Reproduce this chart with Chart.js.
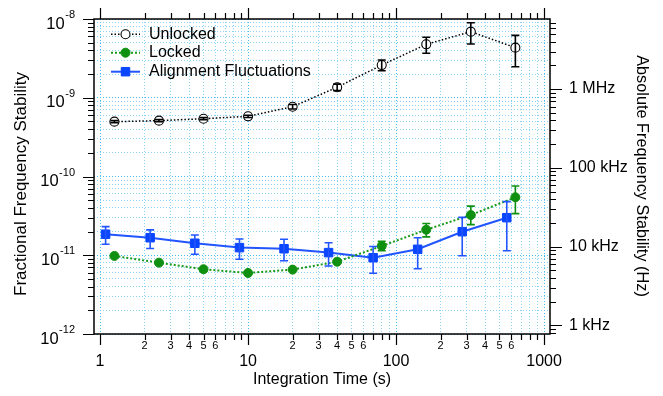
<!DOCTYPE html>
<html><head><meta charset="utf-8">
<script src="https://cdn.jsdelivr.net/npm/chart.js@4.4.1/dist/chart.umd.min.js"></script>
<style>html,body{margin:0;padding:0;background:#fff;overflow:hidden}#wrap{width:663px;height:396px;position:relative}</style>
</head><body><div id="wrap"><canvas id="c" width="663" height="396"></canvas></div>
<script>
const FONT = "'Liberation Sans', Arial, Helvetica, sans-serif";

// ---------- data ----------
const tauUnlocked = [1.25, 2.5, 5, 10, 20, 40, 80, 160, 320, 640];
const unlocked    = [4.97e-10, 5.12e-10, 5.42e-10, 5.81e-10, 7.69e-10, 1.36e-9, 2.6e-9, 4.77e-9, 6.9e-9, 4.33e-9];
const unlockedLo  = [4.82e-10, 4.96e-10, 5.25e-10, 5.62e-10, 7.2e-10, 1.23e-9, 2.2e-9, 3.67e-9, 4.82e-9, 2.48e-9];
const unlockedHi  = [5.12e-10, 5.28e-10, 5.6e-10, 6.0e-10, 8.2e-10, 1.49e-9, 3.02e-9, 5.86e-9, 8.97e-9, 6.2e-9];

const tauLocked = [1.25, 2.5, 5, 10, 20, 40, 80, 160, 320, 640];
const locked    = [9.8e-12, 8.05e-12, 6.64e-12, 5.96e-12, 6.57e-12, 8.28e-12, 1.31e-11, 2.11e-11, 3.24e-11, 5.45e-11];
const lockedLo  = [null, null, null, null, null, null, 1.14e-11, 1.71e-11, 2.45e-11, 3.38e-11];
const lockedHi  = [null, null, null, null, null, null, 1.50e-11, 2.53e-11, 4.21e-11, 7.58e-11];

const tauAlign = [1.09, 2.18, 4.37, 8.75, 17.5, 35, 70, 140, 280, 560];
const align    = [1.85e-11, 1.67e-11, 1.42e-11, 1.25e-11, 1.21e-11, 1.08e-11, 9.3e-12, 1.19e-11, 1.99e-11, 3.0e-11];
const alignLo  = [1.38e-11, 1.22e-11, 1.03e-11, 8.89e-12, 8.53e-12, 7.3e-12, 5.9e-12, 6.74e-12, 9.86e-12, 1.14e-11];
const alignHi  = [2.31e-11, 2.10e-11, 1.81e-11, 1.61e-11, 1.60e-11, 1.44e-11, 1.29e-11, 1.67e-11, 3.03e-11, 4.79e-11];

// ---------- axes / tick labels ----------
const X_MIN = 0.91, X_MAX = 1097;
const Y_MIN = 1e-12, Y_MAX = 1e-8;
const F0 = 7.76e14; // Hz per unit fractional stability (right axis)
const xDecades = [1, 10, 100, 1000];
const xDecadeLabels = ['1', '10', '100', '1000'];
const xMinorLabeled = [2, 3, 4, 5, 6];
const yDecades = [1e-12, 1e-11, 1e-10, 1e-9, 1e-8];
const yExponents = ['-12', '-11', '-10', '-9', '-8'];
const fDecades = [1e2, 1e3, 1e4, 1e5, 1e6];
const fDecadeLabels = ['100 Hz', '1 kHz', '10 kHz', '100 kHz', '1 MHz'];
const MULTS = [1, 2, 3, 4, 5, 6, 7, 8, 9];

function logTicks(decades, lo, hi) {
  const out = [];
  decades.forEach(d => MULTS.forEach(m => {
    const v = d * m;
    if (v >= lo * 0.9999 && v <= hi * 1.0001) out.push({ value: v, major: m === 1 });
  }));
  return out;
}
const xTicks = logTicks(xDecades, X_MIN, X_MAX);
const yTicks = logTicks(yDecades, Y_MIN, Y_MAX);
const fTicks = logTicks(fDecades, Y_MIN * F0, Y_MAX * F0);

const gridMajor = 'rgba(60,185,240,0.95)';
const gridMinor = 'rgba(120,205,245,0.85)';

const errorBars = {
  id: 'errorBars',
  afterDatasetsDraw(chart) {
    const ctx = chart.ctx;
    chart.data.datasets.forEach((ds, di) => {
      const meta = chart.getDatasetMeta(di);
      const xs = chart.scales[meta.xAxisID], ys = chart.scales[meta.yAxisID];
      ctx.save();
      ctx.strokeStyle = ds.errColor; ctx.lineWidth = 1.6; ctx.setLineDash([]);
      ds.data.forEach((p, i) => {
        const lo = ds.errLo[i], hi = ds.errHi[i];
        if (lo == null || hi == null) return;
        const x = xs.getPixelForValue(p.x);
        const y1 = ys.getPixelForValue(lo), y2 = ys.getPixelForValue(hi);
        ctx.beginPath();
        ctx.moveTo(x, y1); ctx.lineTo(x, y2);
        ctx.moveTo(x - 4, y1); ctx.lineTo(x + 4, y1);
        ctx.moveTo(x - 4, y2); ctx.lineTo(x + 4, y2);
        ctx.stroke();
      });
      ctx.restore();
    });
  }
};

const frameAndText = {
  id: 'frameAndText',
  afterDraw(chart) {
    const ctx = chart.ctx, a = chart.chartArea;
    const xs = chart.scales.x, ys = chart.scales.y, fs = chart.scales.y2;
    ctx.save();
    // frame
    ctx.strokeStyle = '#000'; ctx.lineWidth = 1.5; ctx.setLineDash([]);
    ctx.strokeRect(a.left, a.top, a.right - a.left, a.bottom - a.top);
    // ticks
    ctx.lineWidth = 1.2;
    ctx.beginPath();
    xTicks.forEach(t => {
      const px = Math.round(xs.getPixelForValue(t.value)) + 0.5;
      const L = t.major ? 11 : 6;
      ctx.moveTo(px, a.bottom); ctx.lineTo(px, a.bottom + L);
      ctx.moveTo(px, a.top); ctx.lineTo(px, a.top - L);
    });
    yTicks.forEach(t => {
      const py = Math.round(ys.getPixelForValue(t.value)) + 0.5;
      const L = t.major ? 11 : 6;
      ctx.moveTo(a.left, py); ctx.lineTo(a.left - L, py);
    });
    fTicks.forEach(t => {
      const py = Math.round(fs.getPixelForValue(t.value)) + 0.5;
      const L = t.major ? 12 : 6;
      ctx.moveTo(a.right, py); ctx.lineTo(a.right + L, py);
    });
    ctx.stroke();
    // x labels
    ctx.fillStyle = '#000';
    ctx.textAlign = 'center'; ctx.textBaseline = 'middle';
    ctx.font = '16px ' + FONT;
    xDecades.forEach((d, i) => ctx.fillText(xDecadeLabels[i], xs.getPixelForValue(d), 362));
    ctx.font = '11px ' + FONT;
    xDecades.forEach(d => xMinorLabeled.forEach(m => {
      const v = d * m;
      if (v <= X_MAX) ctx.fillText(String(m), xs.getPixelForValue(v), 346);
    }));
    // left labels 10^n
    yDecades.forEach((d, i) => {
      const py = ys.getPixelForValue(d);
      const right = a.left - 19;
      ctx.textAlign = 'right';
      ctx.font = '11px ' + FONT;
      const sw = ctx.measureText(yExponents[i]).width;
      ctx.fillText(yExponents[i], right, py - 4);
      ctx.font = '16.5px ' + FONT;
      ctx.fillText('10', right - sw - 0.5, py + 5);
    });
    // right labels
    ctx.textAlign = 'left'; ctx.font = '16px ' + FONT;
    fDecades.forEach((f, i) => {
      if (f < Y_MIN * F0 || f > Y_MAX * F0) return;
      ctx.fillText(fDecadeLabels[i], a.right + 19, fs.getPixelForValue(f));
    });
    // axis titles
    ctx.textAlign = 'center'; ctx.font = '16px ' + FONT;
    ctx.fillText('Integration Time (s)', (a.left + a.right) / 2, 380);
    ctx.save(); ctx.translate(21, 184); ctx.rotate(-Math.PI / 2);
    ctx.font = '17px ' + FONT;
    ctx.fillText('Fractional Frequency Stability', 0, 0); ctx.restore();
    ctx.save(); ctx.translate(641, 176); ctx.rotate(Math.PI / 2);
    ctx.font = '16.3px ' + FONT;
    ctx.fillText('Absolute Frequency Stability (Hz)', 0, 0); ctx.restore();
    // legend
    const rows = [34.3, 52.7, 71.7];
    chart.data.datasets.forEach((ds, i) => {
      const y = rows[i];
      ctx.save();
      ctx.strokeStyle = ds.borderColor; ctx.lineWidth = ds.borderWidth;
      ctx.setLineDash(ds.borderDash || []);
      ctx.beginPath(); ctx.moveTo(111, y); ctx.lineTo(140, y); ctx.stroke();
      ctx.restore();
      ctx.save();
      ctx.fillStyle = ds.pointBackgroundColor; ctx.strokeStyle = ds.pointBorderColor;
      ctx.lineWidth = ds.pointBorderWidth; ctx.setLineDash([]);
      Chart.helpers.drawPoint(ctx, { pointStyle: ds.pointStyle, radius: ds.pointRadius, rotation: 0, borderWidth: ds.pointBorderWidth }, 125.5, y);
      ctx.restore();
      ctx.fillStyle = '#000'; ctx.textAlign = 'left'; ctx.textBaseline = 'middle';
      ctx.font = '16px ' + FONT;
      ctx.fillText(ds.label, 149, y);
    });
    ctx.restore();
  }
};

const pts = (xs, ys) => xs.map((x, i) => ({ x, y: ys[i] }));

new Chart(document.getElementById('c'), {
  type: 'line',
  data: {
    datasets: [
      {
        label: 'Unlocked', data: pts(tauUnlocked, unlocked), yAxisID: 'y',
        borderColor: '#000', borderWidth: 1.5, borderDash: [1.5, 2],
        pointStyle: 'circle', pointRadius: 4.5, pointBorderColor: '#000', pointBackgroundColor: '#fff', pointBorderWidth: 1.1,
        errLo: unlockedLo, errHi: unlockedHi, errColor: '#000'
      },
      {
        label: 'Locked', data: pts(tauLocked, locked), yAxisID: 'y',
        borderColor: '#1a9a1a', borderWidth: 2, borderDash: [2, 2],
        pointStyle: 'circle', pointRadius: 4.5, pointBorderColor: '#109010', pointBackgroundColor: '#109010', pointBorderWidth: 1,
        errLo: lockedLo, errHi: lockedHi, errColor: '#109010'
      },
      {
        label: 'Alignment Fluctuations', data: pts(tauAlign, align), yAxisID: 'y',
        borderColor: '#2255ff', borderWidth: 2, borderDash: [],
        pointStyle: 'rect', pointRadius: 6, pointBorderColor: '#0a45ff', pointBackgroundColor: '#0a45ff', pointBorderWidth: 1,
        errLo: alignLo, errHi: alignHi, errColor: '#2255ff'
      }
    ]
  },
  options: {
    responsive: false, animation: false, devicePixelRatio: 1,
    layout: { padding: { top: 19, left: 0, right: 0, bottom: 0 } },
    plugins: { legend: { display: false }, tooltip: { enabled: false } },
    elements: { line: { tension: 0 } },
    scales: {
      x: {
        type: 'logarithmic', position: 'bottom', min: X_MIN, max: X_MAX,
        afterBuildTicks: s => { s.ticks = xTicks.map(t => ({ ...t })); },
        afterFit: s => { s.height = 62; },
        ticks: { display: false },
        grid: { drawTicks: false, lineWidth: 1, color: c => (c.tick && c.tick.major) ? gridMajor : gridMinor },
        border: { display: false, dash: [1, 2] }
      },
      y: {
        type: 'logarithmic', position: 'left', min: Y_MIN, max: Y_MAX,
        afterBuildTicks: s => { s.ticks = yTicks.map(t => ({ ...t })); },
        afterFit: s => { s.width = 94; },
        ticks: { display: false },
        grid: { drawTicks: false, lineWidth: 1, color: c => (c.tick && c.tick.major) ? gridMajor : gridMinor },
        border: { display: false, dash: [1, 2] }
      },
      y2: {
        type: 'logarithmic', position: 'right', min: Y_MIN * F0, max: Y_MAX * F0,
        afterBuildTicks: s => { s.ticks = fTicks.map(t => ({ ...t })); },
        afterFit: s => { s.width = 113; },
        ticks: { display: false },
        grid: { display: false, drawTicks: false },
        border: { display: false }
      }
    }
  },
  plugins: [errorBars, frameAndText]
});
</script></body></html>
